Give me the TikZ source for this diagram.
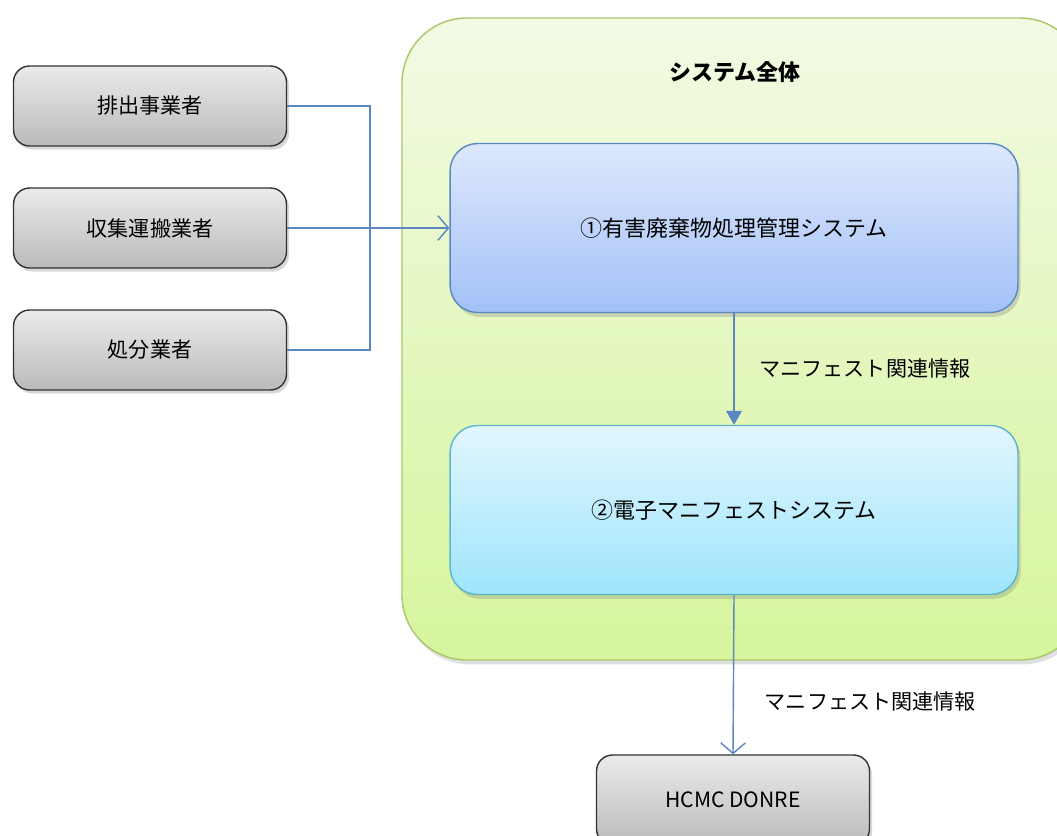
\documentclass[tikz,border=0pt]{standalone}
\usepackage{fontspec}
\setmainfont{Noto Sans CJK JP}
\usetikzlibrary{positioning,shadows,arrows.meta}

\definecolor{frameGreen}{HTML}{A6C86A}
\definecolor{frameTop}{HTML}{F2FAE4}
\definecolor{frameBot}{HTML}{D6F59C}
\definecolor{boxBlue}{HTML}{5A86C2}
\definecolor{blueTop}{HTML}{DDE8FC}
\definecolor{blueBot}{HTML}{A3C1F8}
\definecolor{boxCyan}{HTML}{5BB4D0}
\definecolor{cyanTop}{HTML}{E2F6FE}
\definecolor{cyanBot}{HTML}{9EE5FC}
\definecolor{lineBlue}{HTML}{5B87C5}

\tikzset{
  actor/.style={draw=black!80, thick, rounded corners=0.32cm, top color=black!8, bottom color=black!27,
    minimum width=5.46cm, minimum height=1.6cm, drop shadow={shadow xshift=1.5pt, shadow yshift=-2pt, opacity=0.3}},
  subsys/.style={thick, rounded corners=0.55cm, minimum width=11.36cm, minimum height=3.38cm,
    drop shadow={shadow xshift=1.5pt, shadow yshift=-2.5pt, opacity=0.3}},
  flow/.style={draw=lineBlue, thick},
  lbl/.style={font=\fontsize{12}{14}\selectfont}
}

\begin{document}
\begin{tikzpicture}[x=0.02cm, y=-0.02cm, lbl]
        \useasboundingbox (0,0) rectangle (1057,835);
        \clip (0,0) rectangle (1057,835);
        \fill[white] (0,0) rectangle (1057,835);
        % whole system frame
        \draw[draw=frameGreen, thick, rounded corners=1.3cm, top color=frameTop, bottom color=frameBot,
          drop shadow={shadow xshift=1.5pt, shadow yshift=-2.5pt, opacity=0.25}] (402,18) rectangle (1085,660);
        \node[font=\fontsize{12.5}{14}\bfseries] (title) at (735,72) {システム全体};
        % actors
        \node[actor] (gen) at (150,106) {排出事業者};
        \node[actor] (coll) at (150,228) {収集運搬業者};
        \node[actor] (disp) at (150,350) {処分業者};
        % subsystems
        \node[subsys, draw=boxBlue, top color=blueTop, bottom color=blueBot, font=\fontsize{12.5}{14}\selectfont] (sys1) at (734,228) {①有害廃棄物処理管理システム};
        \node[subsys, draw=boxCyan, top color=cyanTop, bottom color=cyanBot, font=\fontsize{12.5}{14}\selectfont] (sys2) at (734,510) {②電子マニフェストシステム};
        \node[actor, minimum height=1.8cm] (donre) at (733,800) {HCMC DONRE};
        % connectors
        \coordinate (join) at (370,228);
        \draw[flow] (gen.east) -| (join);
        \draw[flow] (disp.east) -| (join);
        \draw[flow, -{Straight Barb[length=6pt, width=14pt]}] (coll.east) -- (sys1.west);
        \draw[flow, -{Triangle[length=8pt, width=9pt]}] (sys1.south) -- (sys2.north)
          node[midway, right=0.38cm, black] (info1) {マニフェスト関連情報};
        \draw[flow, -{Straight Barb[length=6pt, width=14pt]}] (sys2.south) -- (donre.north)
          node[pos=0.67, right=0.5cm, black] (info2) {マニフェスト関連情報};
\end{tikzpicture}
\end{document}
